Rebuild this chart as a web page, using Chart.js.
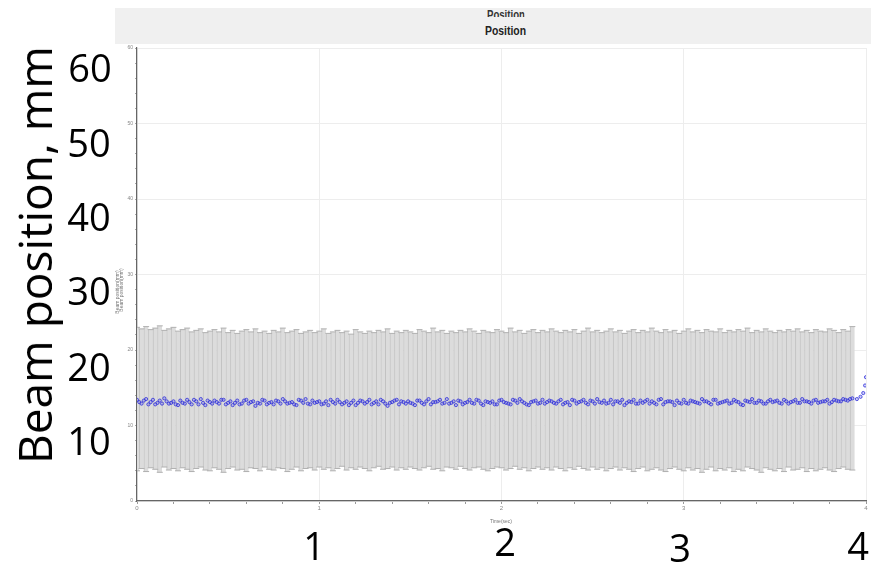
<!DOCTYPE html>
<html>
<head>
<meta charset="utf-8">
<script src="https://cdn.jsdelivr.net/npm/chart.js@4.4.1/dist/chart.umd.min.js"></script>
<style>
    body { margin: 0; background: #fff; }
    #wrap { position: relative; width: 871px; height: 563px; overflow: hidden; }
    #chartBox { position: absolute; left: 0; top: 0; width: 871px; height: 563px; }
    .header { position: absolute; left: 115px; top: 8px; width: 756px; height: 36px; background: #f0f0f0; overflow: hidden; }
    .header .ghost { position: absolute; left: 372px; top: 0px; height: 9px; overflow: hidden; font: bold 12px "Liberation Sans", sans-serif; color: #333; transform: scaleX(0.8); transform-origin: left top; }
    .header .title { position: absolute; left: 370px; top: 15px; font: bold 13px "Liberation Sans", sans-serif; color: #222; transform: scaleX(0.8); transform-origin: left top; }
    .big { position: absolute; font: 38px "Open Sans", "Liberation Sans", sans-serif; color: #000; line-height: 1; transform: translate(-50%, -50%); white-space: nowrap; }
    .ytitle { font-size: 46px; transform: translate(-50%, -50%) rotate(-90deg); }
    .tiny { position: absolute; font: 5px "Liberation Sans", sans-serif; color: #777; white-space: nowrap; transform: translate(-50%, -50%); }
    .tiny.rot { transform: translate(-50%, -50%) rotate(-90deg); }
</style>
</head>
<body>
<div id="wrap">
    <div id="chartBox"><canvas id="posChart"></canvas></div>

    <div class="header"><span class="ghost">Position</span><span class="title">Position</span></div>

    <div class="tiny rot" style="left:117px; top:292px;">Beam position(mm)</div>
    <div class="tiny rot" style="left:121px; top:290px;">Beam position(mm)</div>
    <div class="tiny" style="left:501px; top:521px;">Time(sec)</div>

    <div class="big ytitle" style="left:34px; top:255px;">Beam position, mm</div>
    <div class="big" style="left:90px; top:67px;">60</div>
    <div class="big" style="left:89px; top:142px;">50</div>
    <div class="big" style="left:89px; top:216px;">40</div>
    <div class="big" style="left:89px; top:290px;">30</div>
    <div class="big" style="left:89px; top:366px;">20</div>
    <div class="big" style="left:89px; top:440px;">10</div>
    <div class="big" style="left:314px; top:545px;">1</div>
    <div class="big" style="left:505px; top:541px;">2</div>
    <div class="big" style="left:680px; top:547px;">3</div>
    <div class="big" style="left:858px; top:545px;">4</div>
</div>

<script>
// sampling interval of the recorded beam position (s)
const sampleStep = 0.025;

// mean beam position at each sample (mm)
const posMean = [
    13.4,12.9,13.5,13.1,12.8,13.3,13.6,12.9,13.2,12.7,
    13.0,13.4,12.8,13.2,13.5,12.7,13.1,13.3,12.9,13.4,
    13.0,12.7,13.3,12.9,13.4,13.1,12.6,12.9,13.3,13.0,
    12.8,13.2,13.5,12.9,13.1,12.7,13.3,13.5,12.8,13.0,
    13.2,12.9,12.7,13.1,13.4,12.8,13.2,13.0,12.7,13.3,
    12.9,13.4,13.0,12.8,13.2,12.6,13.1,13.4,13.2,12.9,
    13.0,12.7,13.3,12.8,13.5,13.1,13.2,12.9,13.5,13.0,
    12.7,13.2,13.0,13.4,12.9,13.3,12.7,13.1,13.2,12.8,
    13.4,13.0,12.8,13.3,13.5,13.0,12.7,13.2,12.9,13.4,
    13.1,13.2,12.9,13.4,13.0,12.7,13.3,13.1,13.4,12.8,
    13.2,13.5,13.0,12.9,13.4,13.2,13.0,12.7,13.2,13.4,
    12.9,13.0,13.4,13.2,12.8,13.5,13.1,13.2,12.7,13.0,
    13.4,12.9,13.2,13.0,13.5,13.2,12.8,13.4,13.0,13.2,
    12.9,13.4,13.1,12.7,13.2,13.5,13.0,13.2,12.9,13.4,
    13.2,13.0,13.4,12.9,13.2,13.0,13.5,13.2,12.9,13.4,
    13.1,13.2,12.9,13.4,13.2,13.5,13.3,13.6
];

// readings taken halfway between the samples above (mm)
const posMeanMid = [
    13.1,13.3,12.8,13.4,13.0,12.9,13.2,13.0,12.8,13.3,
    12.9,13.1,13.4,12.8,13.0,13.3,12.9,13.1,13.4,12.8,
    13.2,13.0,12.8,13.3,12.9,13.2,13.0,13.4,12.8,13.1,
    13.3,12.9,13.2,13.0,12.8,13.4,13.0,12.9,13.3,13.1,
    12.8,13.2,13.4,12.9,13.1,13.0,12.7,13.3,13.0,13.2,
    13.1,12.8,13.2,13.4,12.9,13.0,13.3,12.8,13.1,13.2,
    12.9,13.3,13.0,13.2,12.8,13.1,13.4,13.0,12.9,13.2,
    13.3,12.8,13.1,13.0,13.4,12.9,13.2,13.0,12.8,13.3,
    13.1,12.9,13.4,13.0,13.2,12.8,13.1,13.3,13.0,12.9,
    13.3,13.0,13.2,12.8,13.1,13.4,12.9,13.2,13.0,13.3,
    12.9,13.1,13.3,13.0,12.8,13.2,13.4,13.0,13.1,12.9,
    13.3,13.2,12.9,13.0,13.4,12.8,13.2,13.1,13.3,12.9,
    13.0,13.3,13.1,12.9,13.2,13.0,13.4,12.9,13.1,13.3,
    13.0,13.2,12.8,13.3,13.1,13.0,13.3,12.9,13.2,13.1,
    13.3,12.9,13.2,13.1,13.4,13.0,13.2,13.1,13.3,13.0,
    13.2,13.4,13.1,13.3,13.2,13.4,13.5
];

// lower end of the error bar (mm)
const posLow = [
    4.0,4.3,3.9,4.4,4.2,3.8,4.5,4.1,4.3,4.0,
    4.4,4.2,3.9,4.3,4.5,4.1,4.0,4.4,4.2,3.8,
    4.3,4.5,4.1,4.2,3.9,4.4,4.3,4.0,4.5,4.2,
    4.1,4.4,4.3,3.9,4.2,4.5,4.0,4.3,4.4,4.1,
    4.5,4.2,4.4,4.0,4.3,4.6,4.1,4.4,4.2,4.5,
    4.3,4.0,4.4,4.6,4.2,4.3,4.5,4.1,4.4,4.2,
    4.5,4.3,4.1,4.4,4.6,4.2,4.3,4.0,4.5,4.4,
    4.2,4.6,4.3,4.1,4.4,4.5,4.2,4.0,4.3,4.5,
    4.4,4.1,4.3,4.6,4.2,4.4,4.0,4.3,4.5,4.2,
    4.4,4.1,4.5,4.3,4.0,4.4,4.2,4.6,4.3,4.1,
    4.5,4.2,4.4,4.0,4.3,4.5,4.1,4.4,4.2,3.9,
    4.3,4.5,4.0,4.2,4.4,4.1,3.9,4.3,4.5,4.2,
    4.0,4.4,4.1,4.3,3.8,4.2,4.5,4.0,4.3,4.1,
    4.4,3.9,4.2,4.0,4.5,4.3,4.1,3.8,4.4,4.2,
    4.0,4.3,3.9,4.5,4.1,4.2,4.4,3.9,4.3,4.0,
    4.2,4.4,4.1,3.9,4.3,4.5,4.2,4.1
];

// upper end of the error bar (mm)
const posHigh = [
    23.0,22.8,23.1,22.7,22.9,23.2,22.6,22.8,23.0,22.5,
    22.7,22.9,22.4,22.6,22.8,22.3,22.5,22.7,22.4,22.9,
    22.3,22.6,22.2,22.5,22.7,22.4,22.8,22.3,22.5,22.2,
    22.6,22.4,22.9,22.3,22.5,22.7,22.2,22.4,22.6,22.3,
    22.5,22.8,22.2,22.4,22.6,22.3,22.5,22.1,22.7,22.4,
    22.2,22.5,22.3,22.6,22.4,22.8,22.2,22.5,22.3,22.6,
    22.4,22.2,22.7,22.5,22.3,22.9,22.4,22.6,22.2,22.5,
    22.3,22.6,22.4,22.8,22.5,22.2,22.6,22.4,22.3,22.7,
    22.5,22.3,22.9,22.4,22.6,22.2,22.5,22.7,22.3,22.6,
    22.4,22.8,22.5,22.3,22.6,22.4,22.7,22.2,22.5,22.9,
    22.4,22.6,22.3,22.5,22.8,22.4,22.6,22.2,22.5,22.7,
    22.3,22.6,22.4,22.9,22.5,22.3,22.7,22.4,22.6,22.2,
    22.5,22.8,22.4,22.6,22.3,22.7,22.5,22.4,22.8,22.3,
    22.6,22.4,22.7,22.5,22.9,22.3,22.6,22.4,22.8,22.5,
    22.3,22.6,22.4,22.7,22.5,22.8,22.4,22.6,22.3,22.7,
    22.5,22.4,22.8,22.6,22.3,22.7,22.5,23.1
];

// last few readings at the end of the pulse (no error bars)
const tailTime = [3.95, 3.97, 3.985, 3.995, 4.0];
const tailMean = [13.5, 13.8, 14.3, 15.3, 16.4];

const sampleTime = posMean.map((_, i) => +(i * sampleStep).toFixed(4));
const midTime = posMeanMid.map((_, i) => +((i + 0.5) * sampleStep).toFixed(4));

const barData = sampleTime.map((t, i) => ({ x: t, y: [posLow[i], posHigh[i]] }));
const lowCaps = sampleTime.map((t, i) => ({ x: t, y: posLow[i] }));
const highCaps = sampleTime.map((t, i) => ({ x: t, y: posHigh[i] }));
const meanPts = sampleTime.map((t, i) => ({ x: t, y: posMean[i] }))
    .concat(midTime.map((t, i) => ({ x: t, y: posMeanMid[i] })))
    .concat(tailTime.map((t, i) => ({ x: t, y: tailMean[i] })));

const isWhole = v => Math.abs(v - Math.round(v)) < 1e-6;
const tickVal = c => (c.tick ? c.tick.value : NaN);

const ctx = document.getElementById('posChart').getContext('2d');

const chart = new Chart(ctx, {
    type: 'scatter',
    data: {
        datasets: [
            {
                type: 'bar',
                label: 'range',
                data: barData,
                backgroundColor: '#dcdcdc',
                borderColor: '#c2c2c2',
                borderWidth: { left: 1, right: 0, top: 0, bottom: 0 },
                borderSkipped: false,
                barPercentage: 1,
                categoryPercentage: 1,
                order: 3
            },
            {
                label: 'low',
                data: lowCaps,
                pointStyle: 'line',
                pointRadius: 3,
                borderColor: '#b0b0b0',
                borderWidth: 1,
                order: 2
            },
            {
                label: 'high',
                data: highCaps,
                pointStyle: 'line',
                pointRadius: 3,
                borderColor: '#b0b0b0',
                borderWidth: 1,
                order: 2
            },
            {
                label: 'Position',
                data: meanPts,
                pointStyle: 'circle',
                pointRadius: 1.6,
                backgroundColor: 'rgba(110, 110, 240, 0.35)',
                borderColor: 'rgba(45, 45, 215, 0.85)',
                borderWidth: 0.9,
                order: 1
            }
        ]
    },
    options: {
        responsive: true,
        maintainAspectRatio: false,
        animation: false,
        layout: { padding: { top: 48, right: 5, left: 0, bottom: 0 } },
        plugins: {
            legend: { display: false },
            tooltip: { enabled: false }
        },
        scales: {
            x: {
                type: 'linear',
                offset: false,
                min: 0,
                max: 4,
                afterFit: s => { s.height = 62; },
                border: { display: true, color: '#666', width: 1.2 },
                grid: {
                    offset: false,
                    color: c => isWhole(tickVal(c)) ? '#ededed' : 'rgba(0,0,0,0)',
                    tickColor: '#999',
                    tickLength: 3
                },
                ticks: {
                    stepSize: 0.2,
                    autoSkip: false,
                    maxRotation: 0,
                    padding: 1,
                    color: '#888',
                    font: { size: 6 },
                    callback: v => isWhole(v) ? Math.round(v) : ''
                }
            },
            y: {
                min: 0,
                max: 60,
                afterFit: s => { s.width = 137; },
                border: { display: true, color: '#666', width: 1.2 },
                grid: {
                    color: c => (tickVal(c) % 10 === 0) ? '#ededed' : 'rgba(0,0,0,0)',
                    tickColor: '#aaa',
                    tickLength: 2
                },
                ticks: {
                    stepSize: 2,
                    autoSkip: false,
                    padding: 2,
                    color: '#888',
                    font: { size: 5 },
                    callback: v => (v % 10 === 0) ? v : ''
                }
            }
        }
    }
});
</script>
</body>
</html>
